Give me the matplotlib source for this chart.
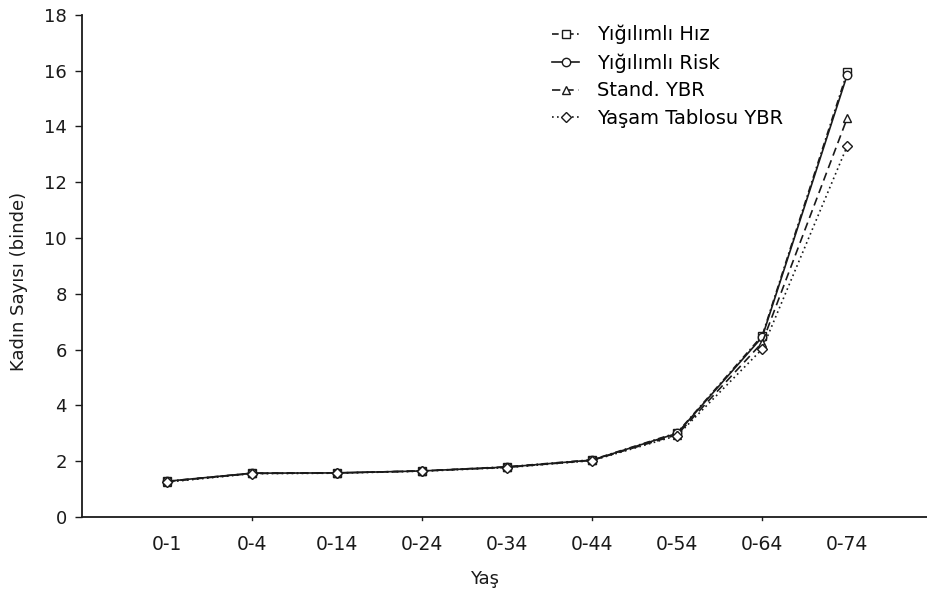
import numpy as np
import matplotlib.pyplot as plt

plt.rcParams['font.family'] = ['DejaVu Sans']

# yas gruplari ve seriler
yas = ['0-1', '0-4', '0-14', '0-24', '0-34', '0-44', '0-54', '0-64', '0-74']
hiz = [1.28, 1.57, 1.58, 1.65, 1.80, 2.05, 3.02, 6.50, 15.95]
risk = [1.28, 1.57, 1.58, 1.65, 1.79, 2.04, 3.00, 6.45, 15.85]
stand = [1.27, 1.56, 1.58, 1.65, 1.78, 2.03, 2.95, 6.25, 14.30]
yasam = [1.25, 1.55, 1.57, 1.64, 1.77, 2.02, 2.92, 6.02, 13.30]

x = np.arange(1, len(yas) + 1)
ink = '#1a1a1a'

fig = plt.figure(figsize=(9.28, 5.96), dpi=100)
ax = fig.add_axes([0.0884, 0.1326, 0.9116, 0.8424])

mk = dict(markerfacecolor='white', markeredgecolor=ink, markersize=6,
          markeredgewidth=1.0, color=ink, linewidth=1.2)
ax.plot(x, hiz, linestyle=(0, (4, 2, 1, 2)), marker='s', label='Yığılımlı Hız', **mk)
ax.plot(x, risk, linestyle='-', marker='o', label='Yığılımlı Risk', **mk)
ax.plot(x, stand, linestyle=(0, (5, 3)), marker='^', label='Stand. YBR', **mk)
ax.plot(x, yasam, linestyle=(0, (1, 2)), marker='D', label='Yaşam Tablosu YBR',
        **{**mk, 'markersize': 4.8})

ax.set_xlim(0, 9.95)
ax.set_ylim(0, 18)
ax.set_yticks(range(0, 19, 2))
ax.set_xticks(x)
ax.set_xticklabels(yas)
ax.tick_params(axis='x', length=0, pad=13, labelsize=13.5, colors=ink)
ax.tick_params(axis='y', length=5, width=1, labelsize=13, colors=ink, pad=6)
# x ekseninde cift kategori tik isaretleri
for t in [2, 4, 6, 8]:
    ax.plot([t, t], [0, -0.12], color=ink, lw=1, clip_on=False)

for s in ['top', 'right']:
    ax.spines[s].set_visible(False)
for s in ['left', 'bottom']:
    ax.spines[s].set_color(ink)
    ax.spines[s].set_linewidth(1.3)

ax.set_ylabel('Kadın Sayısı (binde)', fontsize=13, color=ink)
ax.yaxis.set_label_coords(-0.064, 0.47)
ax.set_xlabel('Yaş', fontsize=13, color=ink)
ax.xaxis.set_label_coords(0.476, -0.105)

leg = ax.legend(loc='upper left', bbox_to_anchor=(0.535, 1.015), frameon=False,
                fontsize=14, handlelength=1.4, handletextpad=0.9, labelspacing=0.45)

fig.savefig('out.png', dpi=100)
